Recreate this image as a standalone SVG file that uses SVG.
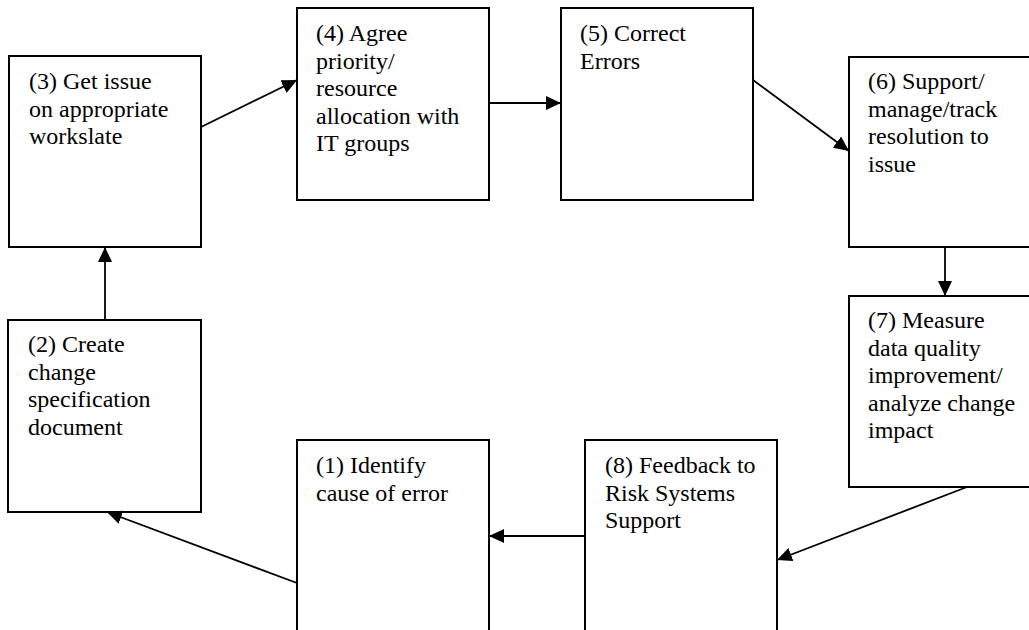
<svg xmlns="http://www.w3.org/2000/svg" width="1029" height="630" viewBox="0 0 1029 630">
<style>
.box{fill:#fff;stroke:#000;stroke-width:2}
.lbl{font-size:24px;fill:#000}
.con{stroke:#000;stroke-width:1.8;fill:none;marker-end:url(#ah)}
</style>
<defs>
<marker id="ah" markerUnits="userSpaceOnUse" markerWidth="15" markerHeight="14" refX="15" refY="7" orient="auto">
<path d="M0,0 L15,7 L0,14 z" fill="#000"/>
</marker>
</defs>
<rect width="1029" height="630" fill="#fff"/>
<g id="n3"><rect class="box" x="9" y="56" width="192" height="191"/>
<text class="lbl" font-family="Times New Roman, serif" x="29" y="89"><tspan x="29">(3) Get issue</tspan><tspan x="29" dy="27.6">on appropriate</tspan><tspan x="29" dy="27.6">workslate</tspan></text></g>
<g id="n4"><rect class="box" x="297" y="8" width="192" height="192"/>
<text class="lbl" font-family="Times New Roman, serif" x="316" y="41"><tspan x="316">(4) Agree</tspan><tspan x="316" dy="27.6">priority/</tspan><tspan x="316" dy="27.6">resource</tspan><tspan x="316" dy="27.6">allocation with</tspan><tspan x="316" dy="27.6">IT groups</tspan></text></g>
<g id="n5"><rect class="box" x="561" y="8" width="192" height="192"/>
<text class="lbl" font-family="Times New Roman, serif" x="580" y="41"><tspan x="580">(5) Correct</tspan><tspan x="580" dy="27.6">Errors</tspan></text></g>
<g id="n6"><rect class="box" x="849" y="57" width="192" height="190"/>
<text class="lbl" font-family="Times New Roman, serif" x="868" y="89"><tspan x="868">(6) Support/</tspan><tspan x="868" dy="27.6">manage/track</tspan><tspan x="868" dy="27.6">resolution to</tspan><tspan x="868" dy="27.6">issue</tspan></text></g>
<g id="n7"><rect class="box" x="849" y="296" width="192" height="191"/>
<text class="lbl" font-family="Times New Roman, serif" x="868" y="328"><tspan x="868">(7) Measure</tspan><tspan x="868" dy="27.6">data quality</tspan><tspan x="868" dy="27.6">improvement/</tspan><tspan x="868" dy="27.6">analyze change</tspan><tspan x="868" dy="27.6">impact</tspan></text></g>
<g id="n2"><rect class="box" x="8" y="320" width="193" height="192"/>
<text class="lbl" font-family="Times New Roman, serif" x="28" y="352"><tspan x="28">(2) Create</tspan><tspan x="28" dy="27.6">change</tspan><tspan x="28" dy="27.6">specification</tspan><tspan x="28" dy="27.6">document</tspan></text></g>
<g id="n1"><rect class="box" x="297" y="440" width="192" height="200"/>
<text class="lbl" font-family="Times New Roman, serif" x="316" y="473"><tspan x="316">(1) Identify</tspan><tspan x="316" dy="27.6">cause of error</tspan></text></g>
<g id="n8"><rect class="box" x="585" y="440" width="192" height="200"/>
<text class="lbl" font-family="Times New Roman, serif" x="605" y="473"><tspan x="605">(8) Feedback to</tspan><tspan x="605" dy="27.6">Risk Systems</tspan><tspan x="605" dy="27.6">Support</tspan></text></g>
<g id="connectors">
<path class="con" d="M201,127 L297,80"/>
<path class="con" d="M489,103 L561,103"/>
<path class="con" d="M753,80 L849,151"/>
<path class="con" d="M945,247 L945,296"/>
<path class="con" d="M967,487 L777,560"/>
<path class="con" d="M585,536 L489,536"/>
<path class="con" d="M297,583 L107,512"/>
<path class="con" d="M105,320 L105,247"/>
</g>
</svg>
